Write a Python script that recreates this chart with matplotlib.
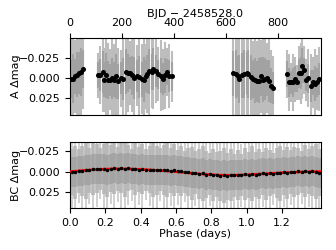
import matplotlib
matplotlib.use("Agg")
import matplotlib.pyplot as plt

# -----------------------------
# Top panel: binned photometry vs time (A)
# -----------------------------
time_bins = [4, 13, 19, 27, 35, 42, 49,
             106, 115, 127, 131, 138, 145, 154, 163, 170, 177, 186, 195, 205,
             214, 221, 230, 239, 247, 256, 266, 275, 284, 291, 297, 305, 314,
             320, 329, 339, 348, 358, 365, 371, 381, 390,
             627, 636, 644, 650, 659, 668, 678, 685, 694, 701, 710, 717, 726,
             733, 740, 749, 758, 765, 773, 781,
             834, 841, 849, 858, 864, 870, 878, 886, 892, 899, 906, 913, 924,
             934, 942, 949, 957]
mag_a = [0.0009, 0.0005, -0.0020, -0.0040, -0.0060, -0.0080, -0.0116,
         -0.0038, -0.0042, -0.0079, 0.0021, -0.0038, 0.0025, 0.0021, 0.0004,
         0.0021, -0.0025, 0.0042, 0.0004, 0.0013, -0.0079, -0.0063, -0.0063,
         -0.0033, 0.0000, -0.0029, -0.0013, 0.0013, 0.0021, -0.0021, -0.0050,
         -0.0088, -0.0075, -0.0113, -0.0088, -0.0050, -0.0029, 0.0013,
         -0.0033, -0.0079, -0.0029, -0.0021,
         -0.0062, -0.0050, -0.0020, 0.0013, -0.0033, -0.0050, -0.0062,
         -0.0054, -0.0012, 0.0013, 0.0025, 0.0042, 0.0030, -0.0020, 0.0020,
         0.0013, 0.0000, 0.0038, 0.0096, 0.0125,
         -0.0054, 0.0054, 0.0054, 0.0054, 0.0013, 0.0054, -0.0062, -0.0062,
         -0.0154, -0.0096, 0.0020, 0.0000, 0.0104, 0.0054, 0.0071, 0.0054,
         0.0013]
# spread of the raw points in each bin: outer envelope and dense core
spread_a = [0.050, 0.062, 0.045, 0.060, 0.055, 0.064, 0.050,
            0.028, 0.036, 0.050, 0.040, 0.055, 0.046, 0.038, 0.052, 0.044,
            0.055, 0.042, 0.036, 0.050, 0.055, 0.048, 0.040, 0.046, 0.052,
            0.038, 0.050, 0.044, 0.055, 0.040, 0.048, 0.055, 0.045, 0.050,
            0.040, 0.034, 0.044, 0.038, 0.042, 0.030, 0.040, 0.032,
            0.055, 0.062, 0.050, 0.060, 0.056, 0.062, 0.052, 0.060, 0.055,
            0.048, 0.058, 0.050, 0.055, 0.046, 0.055, 0.050, 0.044, 0.052,
            0.045, 0.040,
            0.030, 0.036, 0.024, 0.035, 0.028, 0.022, 0.034, 0.038, 0.042,
            0.030, 0.026, 0.036, 0.040, 0.032, 0.044, 0.034, 0.040]
core_a = [0.024, 0.030, 0.022, 0.028, 0.026, 0.030, 0.024,
          0.016, 0.020, 0.026, 0.022, 0.028, 0.024, 0.020, 0.026, 0.022,
          0.028, 0.022, 0.020, 0.026, 0.028, 0.024, 0.020, 0.024, 0.026,
          0.020, 0.026, 0.022, 0.028, 0.020, 0.024, 0.028, 0.022, 0.026,
          0.020, 0.018, 0.022, 0.020, 0.022, 0.016, 0.020, 0.018,
          0.028, 0.030, 0.026, 0.030, 0.028, 0.030, 0.026, 0.030, 0.028,
          0.024, 0.028, 0.026, 0.028, 0.024, 0.028, 0.026, 0.022, 0.026,
          0.022, 0.020,
          0.016, 0.018, 0.014, 0.018, 0.016, 0.012, 0.018, 0.020, 0.022,
          0.016, 0.014, 0.018, 0.020, 0.016, 0.022, 0.018, 0.020]

# -----------------------------
# Bottom panel: phase-folded photometry (BC)
# -----------------------------
phase_bins = [0.01, 0.03, 0.05, 0.07, 0.09, 0.11, 0.13, 0.15, 0.17, 0.19,
              0.21, 0.23, 0.25, 0.27, 0.29, 0.31, 0.33, 0.35, 0.37, 0.39,
              0.41, 0.43, 0.45, 0.47, 0.49, 0.51, 0.53, 0.55, 0.57, 0.59,
              0.61, 0.63, 0.65, 0.67, 0.69, 0.71, 0.73, 0.75, 0.77, 0.79,
              0.81, 0.83, 0.85, 0.87, 0.89, 0.91, 0.93, 0.95, 0.97, 0.99,
              1.01, 1.03, 1.05, 1.07, 1.09, 1.11, 1.13, 1.15, 1.17, 1.19,
              1.21, 1.23, 1.25, 1.27, 1.29, 1.31, 1.33, 1.35, 1.37, 1.39, 1.41]
mag_bc = [0.0003, 0.0008, -0.0006, -0.0012, -0.0016, -0.0015, -0.0030,
          -0.0036, -0.0028, -0.0033, -0.0025, -0.0034, -0.0038, -0.0030,
          -0.0041, -0.0036, -0.0044, -0.0026, -0.0030, -0.0022, -0.0028,
          -0.0018, -0.0025, -0.0020, -0.0014, -0.0022, -0.0016, -0.0024,
          -0.0011, -0.0017, -0.0004, -0.0009, 0.0008, 0.0004, 0.0019, 0.0014,
          0.0026, 0.0022, 0.0035, 0.0030, 0.0041, 0.0036, 0.0048, 0.0044,
          0.0055, 0.0040, 0.0046, 0.0035, 0.0044, 0.0030, 0.0042, 0.0026,
          0.0038, 0.0027, 0.0020, 0.0032, 0.0018, 0.0024, 0.0012, 0.0019,
          0.0008, 0.0016, 0.0004, 0.0010, -0.0002, 0.0007, -0.0004, 0.0003,
          -0.0006, 0.0001, 0.0012]
spread_bc = [0.045, 0.050, 0.038, 0.048, 0.052, 0.040, 0.050, 0.046, 0.036,
             0.048, 0.052, 0.042, 0.050, 0.040, 0.048, 0.052, 0.044, 0.038,
             0.050, 0.042, 0.048, 0.036, 0.044, 0.050, 0.046, 0.038, 0.048,
             0.052, 0.042, 0.050, 0.040, 0.048, 0.036, 0.046, 0.050, 0.040,
             0.048, 0.052, 0.044, 0.038, 0.050, 0.042, 0.048, 0.052, 0.044,
             0.050, 0.040, 0.048, 0.038, 0.050, 0.044, 0.052, 0.042, 0.048,
             0.040, 0.050, 0.044, 0.038, 0.048, 0.052, 0.042, 0.050, 0.040,
             0.048, 0.044, 0.038, 0.050, 0.042, 0.048, 0.052, 0.044]
mid_bc = [0.028, 0.032, 0.026, 0.030, 0.034, 0.027, 0.031, 0.029, 0.025,
          0.030, 0.033, 0.028, 0.031, 0.026, 0.030, 0.034, 0.028, 0.025,
          0.031, 0.027, 0.030, 0.025, 0.028, 0.032, 0.029, 0.026, 0.030,
          0.033, 0.027, 0.031, 0.026, 0.030, 0.025, 0.029, 0.032, 0.026,
          0.030, 0.033, 0.028, 0.025, 0.031, 0.027, 0.030, 0.033, 0.028,
          0.031, 0.026, 0.030, 0.025, 0.031, 0.028, 0.033, 0.027, 0.030,
          0.026, 0.031, 0.028, 0.025, 0.030, 0.033, 0.027, 0.031, 0.026,
          0.030, 0.028, 0.025, 0.031, 0.027, 0.030, 0.033, 0.028]
core_bc = [0.018] * len(phase_bins)

model_phase = [0.00, 0.05, 0.10, 0.15, 0.20, 0.25, 0.30, 0.35, 0.40, 0.45,
               0.50, 0.55, 0.60, 0.65, 0.70, 0.75, 0.80, 0.85, 0.90, 0.95,
               1.00, 1.05, 1.10, 1.15, 1.20, 1.25, 1.30, 1.35, 1.40, 1.42]
model_bc = [0.0000, -0.0010, -0.0019, -0.0026, -0.0031, -0.0034, -0.0034,
            -0.0032, -0.0028, -0.0022, -0.0015, -0.0007, 0.0002, 0.0011,
            0.0020, 0.0029, 0.0036, 0.0041, 0.0043, 0.0041, 0.0037, 0.0031,
            0.0025, 0.0019, 0.0013, 0.0008, 0.0004, 0.0001, -0.0001, -0.0002]

plt.rcParams['font.size'] = 8

fig = plt.figure(figsize=(3.36, 2.5), dpi=100)
ax1 = fig.add_axes([0.2083, 0.54, 0.747, 0.308])
ax2 = fig.add_axes([0.2083, 0.1667, 0.747, 0.2667])

ax1.errorbar(time_bins, mag_a, yerr=spread_a, fmt='none', ecolor='#bdbdbd',
             elinewidth=1.5, zorder=1)
ax1.errorbar(time_bins, mag_a, yerr=core_a, fmt='none', ecolor='#a2a2a2',
             elinewidth=1.5, zorder=2)
ax1.plot(time_bins, mag_a, 'o', color='black', ms=2.6, zorder=3)
ax1.set_xlim(0, 964)
ax1.set_ylim(0.046, -0.05)
ax1.set_yticks([-0.025, 0.0, 0.025])
ax1.set_xticks([0, 200, 400, 600, 800])
ax1.xaxis.tick_top()
ax1.xaxis.set_label_position('top')
ax1.set_xlabel('BJD \u2212 2458528.0', labelpad=1)
ax1.set_ylabel('A \u0394mag', labelpad=-1)

ax2.errorbar(phase_bins, mag_bc, yerr=spread_bc, fmt='none', ecolor='#d0d0d0',
             elinewidth=1.4, zorder=1)
ax2.errorbar(phase_bins, mag_bc, yerr=mid_bc, fmt='none', ecolor='#b8b8b8',
             elinewidth=2.6, zorder=2)
ax2.errorbar(phase_bins, mag_bc, yerr=core_bc, fmt='none', ecolor='#a4a4a4',
             elinewidth=2.6, zorder=2)
ax2.plot(model_phase, model_bc, color='red', lw=1.8, zorder=3)
ax2.plot(phase_bins, mag_bc, 'o', color='black', ms=1.5, zorder=4)
ax2.set_xlim(0, 1.42)
ax2.set_ylim(0.044, -0.036)
ax2.set_yticks([-0.025, 0.0, 0.025])
ax2.set_xticks([0.0, 0.2, 0.4, 0.6, 0.8, 1.0, 1.2])
ax2.set_xlabel('Phase (days)', labelpad=1)
ax2.set_ylabel('BC \u0394mag', labelpad=-1)

fig.savefig('out.png', dpi=100)
